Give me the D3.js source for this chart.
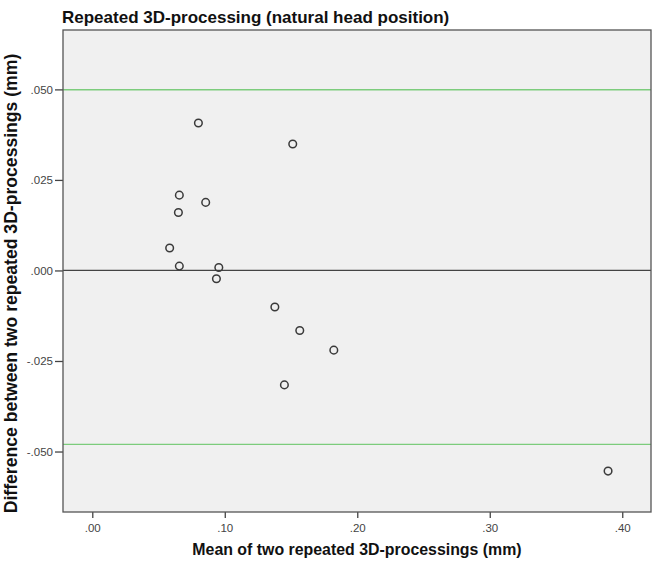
<!DOCTYPE html>
<html>
<head>
<meta charset="utf-8">
<script src="https://cdn.jsdelivr.net/npm/d3@7"></script>
<style>
  body { margin: 0; background: #fff; }
  text { font-family: "Liberation Sans", Arial, sans-serif; }
</style>
</head>
<body>
<div class="plot"></div>
<script>
// mean of the two processings (mm) and their difference (mm)
const meanVals = [0.0801, 0.1513, 0.0657, 0.0856, 0.0650, 0.0584, 0.0657, 0.0955, 0.0937, 0.1378, 0.1566, 0.1823, 0.1450, 0.3893];
const diffVals = [0.0407, 0.0349, 0.0208, 0.0188, 0.0160, 0.0062, 0.0012, 0.0008, -0.0023, -0.0101, -0.0166, -0.0220, -0.0316, -0.0554];
const xTicks = [0, 0.1, 0.2, 0.3, 0.4];
const yTicks = [-0.05, -0.025, 0, 0.025, 0.05];
const refLines = [0.0499, -0.0480]; // limits of agreement
const meanLine = [0];

const width = 660, height = 566;
const plotL = 63, plotR = 651, plotT = 30, plotB = 512;

const svg = d3.select('.plot')
    .append('svg')
    .attr('width', width)
    .attr('height', height);

const x = d3.scaleLinear().domain([-0.0221, 0.4217]).range([plotL, plotR]);
const y = d3.scaleLinear().domain([-0.0667, 0.0664]).range([plotB, plotT]);

//plot background
svg.append('rect')
    .attr('x', plotL).attr('y', plotT)
    .attr('width', plotR - plotL).attr('height', plotB - plotT)
    .attr('fill', '#f0f0f0');

//reference lines
svg.selectAll('line.lim')
    .data(refLines)
    .enter()
    .append('line')
    .attr('class', 'lim')
    .attr('x1', plotL).attr('x2', plotR)
    .attr('y1', d => y(d)).attr('y2', d => y(d))
    .attr('stroke', '#7ccc7c')
    .attr('stroke-width', 1.3);

svg.selectAll('line.mean')
    .data(meanLine)
    .enter()
    .append('line')
    .attr('class', 'mean')
    .attr('x1', plotL).attr('x2', plotR)
    .attr('y1', d => y(d)).attr('y2', d => y(d))
    .attr('stroke', '#444')
    .attr('stroke-width', 1.3);

//points
svg.selectAll('circle')
    .data(meanVals)
    .enter()
    .append('circle')
    .attr('cx', d => x(d))
    .attr('cy', (d, i) => y(diffVals[i]))
    .attr('r', 3.8)
    .attr('fill', 'none')
    .attr('stroke', '#3a3a3a')
    .attr('stroke-width', 1.5);

//axes
const fmtX = d => d3.format('.2f')(d).replace('0.', '.');
const fmtY = d => d3.format('.3f')(d).replace('0.', '.').replace('−', '-');

const xAxis = svg.append('g')
    .attr('transform', `translate(0,${plotB})`)
    .call(d3.axisBottom(x).tickValues(xTicks).tickFormat(fmtX).tickSize(6).tickSizeOuter(0));
const yAxis = svg.append('g')
    .attr('transform', `translate(${plotL},0)`)
    .call(d3.axisLeft(y).tickValues(yTicks).tickFormat(fmtY).tickSize(8).tickSizeOuter(0));

[xAxis, yAxis].forEach(g => {
    g.select('.domain').remove();
    g.selectAll('line').attr('stroke', '#444').attr('stroke-width', 1.3);
    g.selectAll('text').attr('fill', '#444').attr('font-size', 11.5)
        .style('font-family', '"Liberation Sans", Arial, sans-serif');
});
xAxis.selectAll('text').attr('y', 12).attr('dy', '0.71em');
yAxis.selectAll('text').attr('x', -10);

//frame
svg.append('rect')
    .attr('x', plotL).attr('y', plotT)
    .attr('width', plotR - plotL).attr('height', plotB - plotT)
    .attr('fill', 'none')
    .attr('stroke', '#555')
    .attr('stroke-width', 1.3);

//titles
svg.append('text')
    .text('Repeated 3D-processing (natural head position)')
    .attr('x', 62).attr('y', 23)
    .attr('font-size', 17)
    .attr('font-weight', 'bold')
    .attr('fill', '#111');

svg.append('text')
    .text('Mean of two repeated 3D-processings (mm)')
    .attr('x', (plotL + plotR) / 2).attr('y', 555)
    .attr('text-anchor', 'middle')
    .attr('font-size', 15.9)
    .attr('font-weight', 'bold')
    .attr('fill', '#111');

svg.append('text')
    .text('Difference between two repeated 3D-processings (mm)')
    .attr('transform', 'translate(17,283.5) rotate(-90)')
    .attr('text-anchor', 'middle')
    .attr('font-size', 17.6)
    .attr('font-weight', 'bold')
    .attr('fill', '#111');
</script>
</body>
</html>
